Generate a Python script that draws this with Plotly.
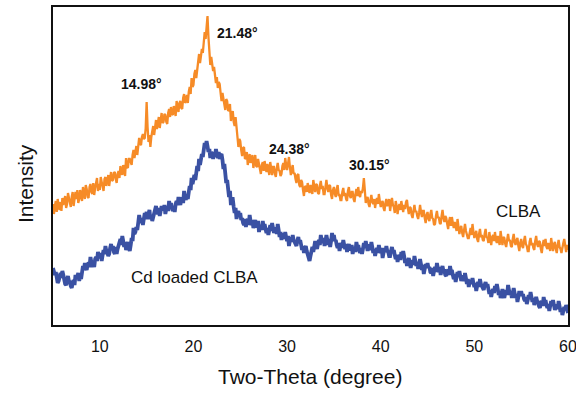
import numpy as np
import plotly.graph_objects as go

# Two-theta grid: 5.0 to 60.0 degrees in 0.1 degree steps (551 points)
two_theta = np.round(np.linspace(5.0, 60.0, 551), 1)

# Intensity (arbitrary units), one row per 2 degrees
clba = [
    121, 111, 119, 124, 113, 126, 118, 115, 123, 114, 127, 120, 124, 129, 117, 121, 132, 126, 122, 118,
    128, 133, 119, 125, 133, 126, 135, 122, 126, 135, 129, 124, 138, 131, 126, 140, 136, 128, 127, 138,
    141, 133, 131, 142, 130, 137, 142, 147, 134, 141, 135, 148, 143, 136, 134, 146, 148, 139, 144, 150,
    139, 148, 153, 144, 145, 152, 153, 146, 142, 151, 154, 147, 159, 153, 150, 160, 155, 149, 167, 158,
    157, 166, 166, 161, 160, 170, 175, 167, 173, 179, 170, 178, 187, 181, 180, 188, 191, 186, 187, 197,
    223, 198, 183, 190, 178, 188, 192, 199, 190, 197, 205, 196, 202, 208, 197, 205, 212, 202, 203, 211,
    210, 203, 201, 212, 216, 208, 218, 211, 210, 219, 214, 209, 224, 216, 213, 222, 224, 217, 216, 227,
    231, 222, 224, 230, 222, 233, 238, 231, 247, 238, 240, 251, 255, 247, 254, 263, 271, 262, 271, 276,
    272, 284, 293, 286, 300, 309, 288, 272, 260, 268, 263, 254, 258, 249, 242, 248, 237, 243, 241, 232,
    224, 232, 227, 218, 215, 226, 224, 214, 215, 221, 204, 211, 214, 203, 199, 208, 200, 190, 178, 186,
    184, 175, 169, 177, 178, 166, 167, 173, 160, 166, 171, 162, 165, 170, 157, 163, 170, 159, 158, 166,
    162, 155, 151, 160, 163, 154, 164, 157, 153, 161, 156, 150, 163, 157, 150, 158, 158, 151, 148, 157,
    162, 155, 154, 149, 151, 159, 162, 155, 167, 160, 155, 161, 168, 158, 150, 156, 160, 151, 152, 146,
    142, 150, 151, 140, 138, 145, 143, 135, 129, 138, 139, 133, 142, 135, 132, 140, 136, 131, 145, 137,
    133, 141, 140, 132, 131, 139, 144, 136, 139, 131, 131, 138, 145, 137, 133, 140, 139, 130, 126, 135,
    138, 131, 128, 136, 140, 130, 130, 125, 125, 133, 137, 129, 132, 126, 124, 134, 138, 129, 127, 133,
    133, 126, 123, 131, 136, 129, 138, 130, 128, 134, 132, 137, 147, 135, 122, 126, 128, 121, 118, 125,
    130, 123, 121, 126, 117, 124, 127, 121, 131, 124, 118, 122, 124, 117, 114, 122, 126, 119, 121, 126,
    114, 121, 127, 120, 118, 112, 124, 119, 111, 118, 121, 115, 124, 118, 113, 120, 116, 123, 125, 117,
    111, 118, 117, 110, 107, 114, 120, 113, 114, 109, 106, 112, 120, 113, 108, 114, 114, 107, 102, 110,
    113, 106, 104, 111, 115, 107, 106, 100, 101, 109, 114, 107, 108, 102, 101, 109, 115, 107, 103, 109,
    107, 101, 96, 104, 108, 99, 108, 102, 97, 103, 99, 94, 106, 98, 91, 97, 99, 92, 88, 95,
    101, 94, 91, 87, 87, 95, 97, 90, 101, 93, 87, 92, 94, 86, 83, 91, 96, 88, 90, 85,
    84, 91, 96, 88, 87, 82, 93, 86, 80, 88, 90, 84, 93, 85, 82, 89, 85, 80, 94, 86,
    80, 88, 87, 81, 78, 85, 91, 84, 85, 79, 78, 86, 91, 83, 80, 85, 87, 79, 74, 82,
    86, 79, 77, 84, 89, 81, 79, 74, 74, 83, 87, 80, 82, 77, 75, 84, 89, 81, 78, 84,
    83, 76, 72, 80, 85, 79, 86, 78, 76, 82, 79, 74, 87, 80, 74, 81, 83, 76, 72, 80,
    85, 78, 76, 72, 80, 82, 86, 79, 73, 80, 75,
]

cd_loaded = [
    57, 54, 50, 53, 46, 42, 44, 48, 52, 47, 54, 50, 44, 41, 40, 45, 49, 44, 43, 39,
    37, 42, 45, 40, 50, 46, 48, 52, 44, 50, 46, 53, 59, 55, 62, 57, 55, 61, 62, 58,
    68, 63, 58, 62, 58, 66, 68, 64, 73, 69, 67, 72, 64, 70, 75, 71, 79, 74, 73, 69,
    71, 77, 81, 76, 79, 73, 71, 78, 71, 76, 80, 84, 86, 80, 89, 84, 78, 83, 75, 79,
    83, 78, 74, 80, 87, 84, 97, 91, 93, 98, 95, 102, 110, 105, 102, 107, 100, 106, 112, 109,
    113, 106, 111, 115, 106, 110, 104, 109, 114, 117, 119, 113, 111, 117, 109, 114, 119, 116, 115, 120,
    111, 116, 119, 114, 124, 119, 122, 117, 114, 119, 113, 121, 124, 120, 128, 123, 120, 126, 127, 122,
    134, 128, 125, 130, 126, 133, 139, 135, 147, 141, 145, 150, 145, 152, 159, 154, 166, 160, 166, 171,
    168, 176, 182, 177, 184, 179, 173, 176, 167, 173, 171, 166, 173, 168, 176, 171, 167, 173, 166, 170,
    171, 165, 156, 161, 150, 142, 145, 139, 128, 134, 120, 126, 126, 118, 112, 117, 106, 112, 114, 108,
    112, 105, 107, 102, 100, 106, 98, 104, 106, 100, 110, 104, 100, 105, 97, 101, 105, 99, 99, 104,
    93, 98, 100, 95, 104, 98, 101, 96, 92, 97, 90, 95, 100, 94, 102, 97, 92, 96, 97, 91,
    101, 95, 88, 93, 85, 90, 91, 86, 93, 88, 84, 89, 79, 84, 88, 83, 90, 85, 83, 79,
    79, 84, 88, 82, 85, 80, 75, 79, 72, 77, 79, 74, 70, 66, 64, 69, 73, 78, 73, 77,
    84, 79, 76, 81, 85, 80, 90, 85, 82, 87, 79, 84, 90, 85, 80, 86, 78, 84, 92, 87,
    90, 84, 85, 80, 77, 82, 74, 79, 82, 77, 85, 80, 76, 81, 73, 78, 81, 76, 76, 80,
    71, 76, 78, 73, 83, 78, 80, 75, 72, 77, 71, 76, 82, 77, 84, 79, 74, 79, 79, 75,
    83, 78, 72, 76, 69, 74, 77, 72, 80, 75, 72, 77, 67, 72, 77, 73, 79, 74, 73, 69,
    69, 74, 78, 73, 75, 70, 66, 70, 63, 68, 70, 65, 73, 68, 74, 69, 62, 66, 59, 64,
    67, 62, 57, 62, 65, 60, 69, 64, 59, 63, 56, 61, 66, 61, 55, 60, 51, 56, 61, 57,
    62, 57, 58, 53, 52, 57, 49, 54, 58, 53, 62, 57, 53, 58, 50, 55, 59, 54, 54, 50,
    49, 54, 55, 50, 59, 54, 55, 50, 46, 51, 43, 48, 53, 48, 54, 49, 44, 48, 48, 44,
    52, 47, 41, 46, 38, 43, 45, 41, 47, 42, 38, 42, 34, 39, 43, 38, 46, 41, 39, 35,
    35, 40, 43, 38, 41, 36, 31, 35, 28, 33, 36, 32, 39, 35, 41, 36, 30, 34, 27, 31,
    36, 31, 27, 32, 35, 30, 40, 35, 30, 34, 27, 32, 37, 32, 27, 31, 23, 28, 34, 29,
    34, 29, 31, 26, 24, 28, 21, 25, 30, 26, 33, 28, 23, 27, 20, 24, 28, 24, 23, 19,
    17, 22, 24, 19, 28, 23, 25, 20, 17, 21, 14, 19, 24, 19, 25, 20, 15, 19, 20, 16,
    24, 19, 13, 17, 10, 14, 18, 15, 20, 16, 12,
]

x_ticks = [10, 20, 30, 40, 50, 60]

peak_labels = ["14.98°", "21.48°", "24.38°", "30.15°"]
peak_label_x = [14.5, 24.65, 30.3, 38.85]
peak_label_y = [241, 292, 176, 160]

series_labels = ["CLBA", "Cd loaded CLBA"]
series_label_x = [54.66, 20.16]
series_label_y = [114, 48]

FONT = "Liberation Sans, Arial, sans-serif"
ORANGE = "#F68B27"
BLUE = "#3A51A3"

fig = go.Figure()
fig.add_trace(go.Scatter(x=two_theta, y=clba, mode="lines",
                         line=dict(color=ORANGE, width=2.3), name="CLBA"))
fig.add_trace(go.Scatter(x=two_theta, y=cd_loaded, mode="lines",
                         line=dict(color=BLUE, width=3.8), name="Cd loaded CLBA"))

for t, xv, yv in zip(peak_labels, peak_label_x, peak_label_y):
    fig.add_annotation(x=xv, y=yv, text="<b>" + t + "</b>", showarrow=False,
                       font=dict(family=FONT, size=14, color="#111111"),
                       xanchor="center", yanchor="middle")

for t, xv, yv in zip(series_labels, series_label_x, series_label_y):
    fig.add_annotation(x=xv, y=yv, text=t, showarrow=False,
                       font=dict(family=FONT, size=17, color="#111111"),
                       xanchor="center", yanchor="middle")

# Axis titles
fig.add_annotation(x=0.499, y=-0.1635, xref="paper", yref="paper",
                   text="Two-Theta (degree)", showarrow=False,
                   font=dict(family=FONT, size=21, color="#111111"),
                   xanchor="center", yanchor="middle")
fig.add_annotation(x=-0.0544, y=0.4465, xref="paper", yref="paper",
                   text="Intensity", showarrow=False, textangle=-90,
                   font=dict(family=FONT, size=21, color="#111111"),
                   xanchor="center", yanchor="middle")

fig.update_layout(
    width=576, height=395,
    margin=dict(l=53, r=8, t=7, b=70),
    paper_bgcolor="white", plot_bgcolor="white",
    showlegend=False,
    font=dict(family=FONT, color="#111111"),
)
fig.update_xaxes(range=[5, 60], tickvals=x_ticks, ticks="", showgrid=False,
                 zeroline=False, showline=True, linecolor="#111111",
                 linewidth=1.5, mirror=True, automargin=False,
                 ticklabeloverflow="allow",
                 tickfont=dict(family=FONT, size=16, color="#111111"),
                 ticklabelstandoff=6)
fig.update_yaxes(range=[0, 318], showticklabels=False, ticks="", showgrid=False,
                 zeroline=False, showline=True, linecolor="#111111",
                 linewidth=1.5, mirror=True, automargin=False)

fig.write_html("out.html")
